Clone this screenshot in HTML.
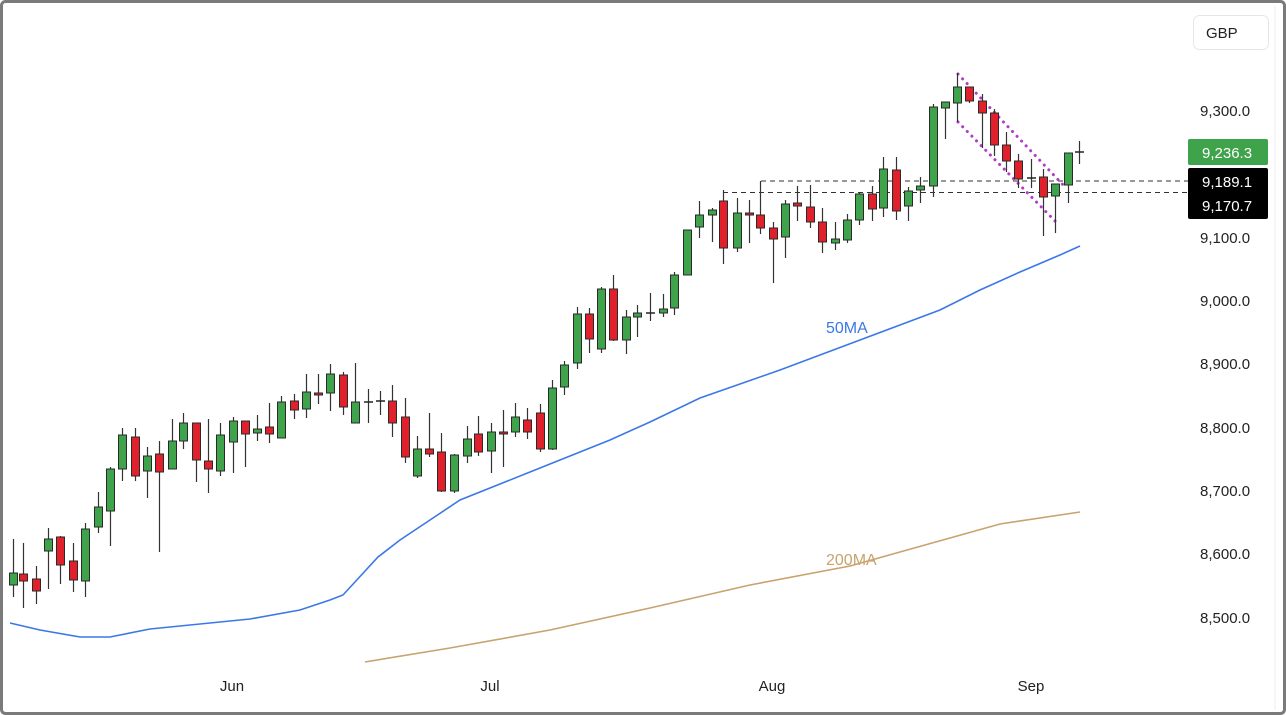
<!DOCTYPE html>
<html><head><meta charset="utf-8"><style>
html,body{margin:0;padding:0;background:#fff;}
body{width:1286px;height:715px;overflow:hidden;font-family:"Liberation Sans",sans-serif;}
</style></head><body>
<svg id="s" width="1286" height="715" xmlns="http://www.w3.org/2000/svg" style="display:block">
<rect x="0" y="0" width="1286" height="715" fill="#fff"/>
<rect x="1.5" y="1.5" width="1283" height="712" rx="4" fill="none" stroke="#7a7a7a" stroke-width="3"/>
<line x1="1275" y1="6" x2="1275" y2="710" stroke="#eee" stroke-width="1"/>
<polyline fill="none" stroke="#3b78e7" stroke-width="1.6" points="10,623 40,630 80,637 110,637 150,629 200,624 250,619 300,610 330,600 343,595 378,557 400,540 430,520 460,500 490,488 530,472 570,456 610,440 650,422 700,398 740,384 780,370 820,355 860,340 900,325 940,310 980,290 1020,272 1060,255 1080,246"/>
<polyline fill="none" stroke="#c9a26e" stroke-width="1.6" points="365,662 450,648 550,630 650,608 750,585 850,566 950,538 1000,524 1080,512"/>
<text x="826" y="333" font-size="16" fill="#3b78e7">50MA</text>
<text x="826" y="565" font-size="16" fill="#c9a26e">200MA</text>
<line x1="761" y1="181" x2="1188" y2="181" stroke="#333" stroke-dasharray="5,4" stroke-width="1"/>
<line x1="723" y1="192.5" x2="1188" y2="192.5" stroke="#333" stroke-dasharray="5,4" stroke-width="1"/>
<line x1="958" y1="74" x2="1066" y2="188" stroke="#b03cc8" stroke-width="3" stroke-dasharray="0.1,6.5" stroke-linecap="round"/>
<line x1="958" y1="122" x2="1055" y2="221" stroke="#b03cc8" stroke-width="3" stroke-dasharray="0.1,6.5" stroke-linecap="round"/>
<g id="c"></g>
<g font-size="15" fill="#222" text-anchor="start">
<text x="1200" y="116">9,300.0</text>
<text x="1200" y="243">9,100.0</text>
<text x="1200" y="306">9,000.0</text>
<text x="1200" y="369">8,900.0</text>
<text x="1200" y="433">8,800.0</text>
<text x="1200" y="496">8,700.0</text>
<text x="1200" y="559">8,600.0</text>
<text x="1200" y="623">8,500.0</text>
</g>
<rect x="1188" y="139" width="80" height="26" rx="2" fill="#3ea34a"/>
<text x="1202" y="158" font-size="15" fill="#fff">9,236.3</text>
<rect x="1188" y="168" width="80" height="51" rx="2" fill="#000"/>
<text x="1202" y="187" font-size="15" fill="#fff">9,189.1</text>
<text x="1202" y="211" font-size="15" fill="#fff">9,170.7</text>
<rect x="1193.5" y="15.5" width="75" height="34" rx="6" fill="#fff" stroke="#e6e6e6"/>
<text x="1206" y="38" font-size="15" fill="#222">GBP</text>
<g font-size="15" fill="#222" text-anchor="middle">
<text x="232" y="691">Jun</text>
<text x="490" y="691">Jul</text>
<text x="772" y="691">Aug</text>
<text x="1031" y="691">Sep</text>
</g>
</svg>
<script>
var d=[
[13,539,597,573,585,1],[23,543,608,574,581,0],[36,566,604,579,591,0],[48,528,589,539,551,1],[60,536,584,537,565,0],[73,543,592,561,580,0],[85,523,597,529,581,1],[98,492,533,507,527,1],[110,467,546,469,511,1],[122,428,481,435,469,1],[135,428,481,437,476,0],[147,447,498,456,471,1],[159,441,552,454,472,0],[172,419,469,441,469,1],[183,413,449,423,441,1],[196,423,482,423,460,0],[208,419,493,461,469,0],[220,423,476,435,471,1],[233,417,473,421,442,1],[245,421,467,421,434,0],[257,415,441,429,433,1],[269,403,443,427,434,0],[281,396,438,402,438,1],[294,394,419,401,410,0],[306,374,418,392,409,1],[318,374,404,393,395,0],[330,364,411,374,393,1],[343,372,415,375,407,0],[355,363,423,402,423,1],[368,389,423,402,402,2],[380,391,415,401,401,2],[392,385,437,401,423,0],[405,398,463,417,457,0],[417,436,478,449,476,1],[429,413,457,449,454,0],[441,433,492,452,491,0],[454,454,493,455,491,1],[467,426,463,439,456,1],[478,416,456,434,452,0],[491,423,473,432,451,1],[503,410,467,432,434,0],[515,403,437,417,432,1],[527,408,439,420,432,0],[540,404,452,413,449,0],[552,380,450,388,449,1],[564,361,395,365,387,1],[577,307,369,314,363,1],[589,308,353,314,339,0],[601,287,353,289,349,1],[613,275,341,289,340,0],[626,310,354,317,340,1],[637,305,337,313,317,1],[650,293,321,313,313,2],[663,294,317,309,313,1],[674,272,315,275,308,1],[687,230,275,230,275,1],[699,201,238,215,227,1],[712,208,242,210,215,1],[723,190,264,201,248,0],[737,198,252,213,248,1],[749,200,243,213,215,0],[760,181,234,215,228,0],[773,222,283,228,239,0],[785,200,258,204,237,1],[797,186,221,203,206,0],[810,185,228,207,222,0],[822,208,253,222,242,0],[835,222,250,239,243,1],[847,214,243,220,240,1],[859,193,225,194,220,1],[872,186,221,194,209,0],[883,157,217,169,208,1],[896,157,220,170,211,0],[908,187,221,191,206,1],[920,177,203,186,190,1],[933,104,197,107,186,1],[945,102,139,102,108,1],[957,73,122,87,103,1],[969,87,103,87,101,0],[982,94,148,101,113,0],[994,109,156,113,145,0],[1006,132,172,145,161,0],[1018,154,188,161,179,0],[1031,159,188,178,178,2],[1043,169,236,177,197,0],[1055,184,233,184,196,1],[1068,153,203,153,185,1],[1079,141,164,152,152,2]];
var g=document.getElementById('c'),h='';
d.forEach(function(c){var x=c[0],col=c[5]==1?'#3ea34a':(c[5]==0?'#e0212b':'#222');
h+='<line x1="'+(x+.5)+'" y1="'+c[1]+'" x2="'+(x+.5)+'" y2="'+c[2]+'" stroke="#333" stroke-width="1.2"/>';
var ht=Math.max(c[4]-c[3],1.5);
if(c[5]==2){h+='<line x1="'+(x-4)+'" y1="'+c[3]+'" x2="'+(x+5)+'" y2="'+c[3]+'" stroke="#222" stroke-width="1.5"/>';}
else h+='<rect x="'+(x-3.5)+'" y="'+c[3]+'" width="8" height="'+ht+'" fill="'+col+'" stroke="#2a2a2a" stroke-width="1"/>';});
g.innerHTML=h;
</script>
</body></html>
